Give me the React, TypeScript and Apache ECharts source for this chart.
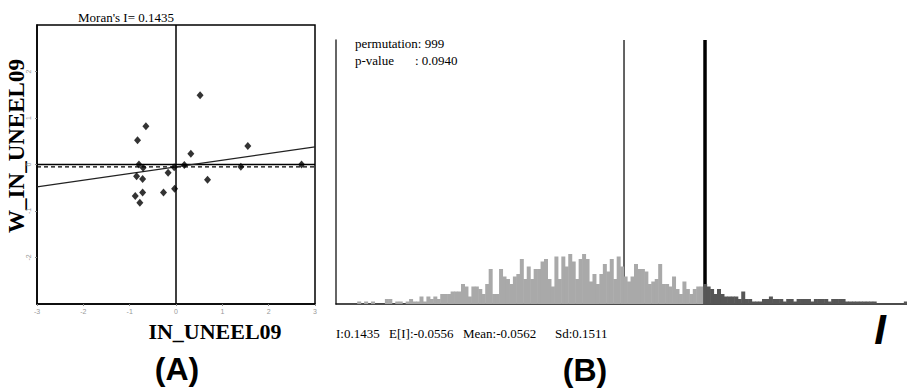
import React, { useEffect, useRef } from "react";
import * as echarts from "echarts";

// ---------- Panel A: Moran scatter plot ----------
const scatterX = [0.52, -0.65, -0.83, 0.32, 1.55, -0.8, -0.71, -0.85, -0.72, -0.17, -0.04, 0.18, 0.68, 1.4, 2.71, -0.88, -0.72, -0.27, -0.03, -0.78];
const scatterY = [1.49, 0.82, 0.52, 0.23, 0.4, 0.0, -0.07, -0.25, -0.31, -0.18, -0.06, -0.01, -0.33, -0.05, 0.0, -0.68, -0.6, -0.6, -0.52, -0.82];
const moranI = 0.1435;
const regIntercept = -0.05;
const meanLag = -0.05;
const axisTicksA = [-3, -2, -1, 0, 1, 2, 3];

// ---------- Panel B: permutation histogram ----------
const permutations = 999;
const pValue = "0.0940";
const expectedI = -0.0556;
const permMean = -0.0562;
const permSd = 0.1511;
const histMin = -0.7663;
const histMax = 0.6415;
const binStart = -0.7219;
const binWidth = 0.00853;
const histCounts = [
  0, 1, 0, 1, 0, 1, 0, 0, 0, 2,
  2, 0, 1, 1, 0, 1, 2, 1, 1, 3,
  1, 3, 2, 3, 2, 4, 4, 4, 5, 5,
  5, 8, 7, 3, 7, 7, 6, 4, 8, 14,
  4, 4, 14, 11, 10, 8, 11, 12, 18, 10,
  15, 10, 14, 14, 17, 18, 10, 7, 19, 10,
  19, 15, 20, 17, 10, 18, 20, 18, 9, 12,
  8, 12, 16, 13, 18, 10, 19, 15, 11, 9,
  11, 16, 14, 14, 13, 8, 9, 10, 16, 8,
  8, 7, 11, 6, 4, 9, 6, 4, 6, 7,
  7, 8, 7, 6, 4, 6, 4, 3, 3, 3,
  3, 2, 5, 2, 2, 1, 1, 1, 2, 2,
  3, 2, 2, 2, 1, 2, 2, 1, 2, 2,
  2, 2, 1, 2, 2, 2, 2, 1, 2, 2,
  2, 2, 1, 1, 1, 1, 1, 1, 1, 1,
  1, 0, 0, 0, 0, 0, 0, 0, 0, 1,
];
const histYMax = 105.6;

const SERIF = '"Liberation Serif", "Times New Roman", serif';
const SANS = '"Liberation Sans", Arial, sans-serif';

export default function App() {
  const ref = useRef<HTMLDivElement>(null);

  useEffect(() => {
    if (!ref.current) return;
    const chart = echarts.init(ref.current, null, { renderer: "svg" });

    const scatterData = scatterX.map((x, i) => [x, scatterY[i]]);
    const regLine = [
      [axisTicksA[0], regIntercept + moranI * axisTicksA[0]],
      [axisTicksA[6], regIntercept + moranI * axisTicksA[6]],
    ];
    const histData = histCounts.map((c, i) => [binStart + (i + 0.5) * binWidth, c]);

    const txt = (x: number, y: number, text: string, font: string, align = "left", extra: any = {}) => ({
      type: "text", x, y, ...extra,
      style: { text, font, fill: "#000", textAlign: align, textVerticalAlign: "middle" },
    });

    const option: any = {
      animation: false,
      backgroundColor: "#ffffff",
      grid: [
        { left: 37, top: 25, width: 278, height: 279, show: true, borderColor: "#000", borderWidth: 1.5, backgroundColor: "transparent" },
        { left: 336, top: 40, right: 0, bottom: 84 },
      ],
      xAxis: [
        {
          gridIndex: 0, type: "value", min: -3, max: 3, interval: 1,
          axisLine: { show: true, onZero: false, lineStyle: { color: "#000", width: 1.5 } },
          axisTick: { show: true, length: 2, lineStyle: { color: "#888" } },
          axisLabel: { fontSize: 7, color: "#999", margin: 4, fontFamily: SANS },
          splitLine: { show: false },
        },
        {
          gridIndex: 1, type: "value", min: histMin, max: histMax,
          axisLine: { show: true, onZero: false, lineStyle: { color: "#111", width: 1.5 } },
          axisTick: { show: false }, axisLabel: { show: false }, splitLine: { show: false },
        },
      ],
      yAxis: [
        {
          gridIndex: 0, type: "value", min: -3, max: 3, interval: 1,
          axisLine: { show: true, onZero: false, lineStyle: { color: "#000", width: 1.5 } },
          axisTick: { show: true, length: 2, lineStyle: { color: "#888" } },
          axisLabel: { fontSize: 7, color: "#999", margin: 5, rotate: 90, showMinLabel: false, showMaxLabel: false, fontFamily: SANS },
          splitLine: { show: false },
        },
        {
          gridIndex: 1, type: "value", min: 0, max: histYMax,
          axisLine: { show: true, onZero: false, lineStyle: { color: "#333", width: 1.5 } },
          axisTick: { show: false }, axisLabel: { show: false }, splitLine: { show: false },
        },
      ],
      series: [
        {
          type: "line", xAxisIndex: 0, yAxisIndex: 0, data: [[-3, 0], [3, 0]],
          symbol: "none", lineStyle: { color: "#000", width: 1.5 }, z: 2,
        },
        {
          type: "line", xAxisIndex: 0, yAxisIndex: 0, data: [[0, -3], [0, 3]],
          symbol: "none", lineStyle: { color: "#000", width: 1.5 }, z: 2,
        },
        {
          type: "line", xAxisIndex: 0, yAxisIndex: 0, data: [[-3, meanLag], [3, meanLag]],
          symbol: "none", lineStyle: { color: "#000", width: 1.2, type: [4, 3] }, z: 2,
        },
        {
          type: "line", xAxisIndex: 0, yAxisIndex: 0, data: regLine,
          symbol: "none", lineStyle: { color: "#222", width: 1.2 }, z: 2,
        },
        {
          type: "scatter", xAxisIndex: 0, yAxisIndex: 0, data: scatterData,
          symbol: "diamond", symbolSize: [7, 8], itemStyle: { color: "#000" }, z: 3,
        },
        {
          type: "line", xAxisIndex: 1, yAxisIndex: 1, data: [[permMean, 0], [permMean, histYMax]],
          symbol: "none", lineStyle: { color: "#111", width: 1.3 }, z: 1,
        },
        {
          type: "line", xAxisIndex: 1, yAxisIndex: 1, data: [[moranI, 0], [moranI, histYMax]],
          symbol: "none", lineStyle: { color: "#000", width: 3.5 }, z: 1,
        },
        {
          type: "bar", xAxisIndex: 1, yAxisIndex: 1, data: histData, barWidth: 4, z: 3,
          itemStyle: {
            color: (p: any) => (p.value[0] > moranI ? "#565656" : "#a9a9a9"),
          },
        },
      ],
      graphic: [
        txt(126, 17, "Moran's I= " + moranI.toFixed(4), `13px ${SERIF}`, "center"),
        txt(16, 146, "W_IN_UNEEL09", `bold 23px ${SERIF}`, "center", { rotation: Math.PI / 2 }),
        txt(215, 331, "IN_UNEEL09", `bold 22px ${SERIF}`, "center"),
        txt(177, 369, "(A)", `bold 32px ${SANS}`, "center"),
        txt(585, 370, "(B)", `bold 32px ${SANS}`, "center"),
        txt(355, 43, "permutation: " + permutations, `13px ${SERIF}`),
        txt(355, 60, "p-value", `13px ${SERIF}`),
        txt(415, 60, ": " + pValue, `13px ${SERIF}`),
        txt(336, 333, "I:" + moranI.toFixed(4), `13px ${SERIF}`),
        txt(389, 333, "E[I]:" + expectedI.toFixed(4), `13px ${SERIF}`),
        txt(463, 333, "Mean:" + permMean.toFixed(4), `13px ${SERIF}`),
        txt(555, 333, "Sd:" + permSd.toFixed(4), `13px ${SERIF}`),
        txt(880, 329, "I", `italic bold 42px ${SANS}`, "center"),
      ],
    };

    chart.setOption(option);
    return () => chart.dispose();
  }, []);

  return (
    <div
      ref={ref}
      style={{ position: "fixed", left: 0, top: 0, width: 907, height: 388, background: "#fff" }}
    />
  );
}
